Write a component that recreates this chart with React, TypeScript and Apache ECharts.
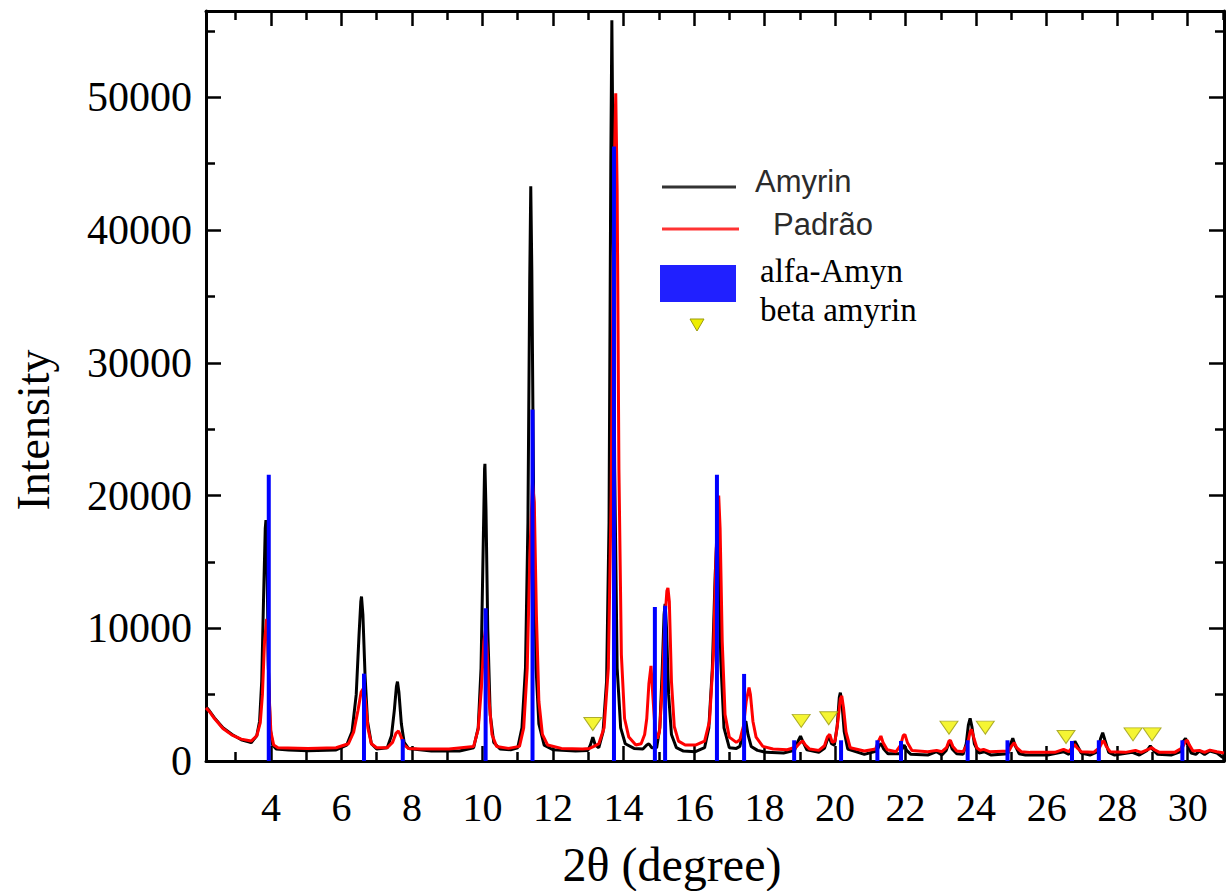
import React, { useEffect, useRef } from 'react';
import * as echarts from 'echarts';

// ---- axis ranges & ticks ----
const xMin = 2.16;
const xMax = 31.03;
const yMin = 0;
const yMax = 56500;
const xMajorTicks = [4, 6, 8, 10, 12, 14, 16, 18, 20, 22, 24, 26, 28, 30];
const xMinorTicks = [3, 5, 7, 9, 11, 13, 15, 17, 19, 21, 23, 25, 27, 29, 31];
const yMajorTicks = [0, 10000, 20000, 30000, 40000, 50000];
const yMinorTicks = [5000, 15000, 25000, 35000, 45000, 55000];

// ---- series names ----
const seriesNames = ['Amyrin', 'Padrão', 'alfa-Amyn', 'beta amyrin'];
const xTitle = '2θ (degree)';
const yTitle = 'Intensity';

// ---- Amyrin (black) pattern: [2θ, intensity] ----
const amyrin: number[][] = [
  [2.16, 4100], [2.25, 3800], [2.4, 3250], [2.64, 2500], [2.9, 2000], [3.16, 1600], [3.44, 1380],
  [3.6, 1900], [3.68, 3000], [3.74, 6000], [3.79, 12000], [3.84, 17500], [3.86, 18150], [3.89, 15000],
  [3.93, 7000], [3.98, 2500], [4.05, 1200], [4.15, 900], [4.5, 820], [5.05, 780], [5.85, 830],
  [6.15, 1200], [6.3, 2200], [6.42, 5000], [6.5, 9500], [6.55, 12000], [6.57, 12390], [6.61, 11000],
  [6.67, 6500], [6.74, 3000], [6.85, 1300], [7.0, 900], [7.3, 1000], [7.42, 1900], [7.5, 3800],
  [7.56, 5600], [7.59, 5980], [7.63, 5200], [7.7, 2800], [7.78, 1400], [7.9, 950], [8.55, 750],
  [9.35, 750], [9.75, 1000], [9.88, 2500], [9.96, 7000], [10.02, 16000], [10.06, 22000],
  [10.07, 22390], [10.1, 19000], [10.15, 10000], [10.22, 3500], [10.32, 1400], [10.5, 900],
  [10.8, 850], [11.0, 1000], [11.12, 2500], [11.22, 7000], [11.29, 18000], [11.34, 36000],
  [11.37, 43300], [11.4, 37000], [11.45, 20000], [11.52, 7000], [11.6, 2800], [11.75, 1200],
  [12.0, 850], [12.64, 750], [12.99, 800], [13.06, 1200], [13.13, 1800], [13.2, 1200], [13.3, 1000],
  [13.42, 2200], [13.52, 6000], [13.59, 18000], [13.64, 45000], [13.67, 55800], [13.7, 46000],
  [13.75, 22000], [13.82, 7000], [13.92, 2500], [14.05, 1300], [14.3, 950], [14.55, 900],
  [14.66, 1200], [14.72, 1300], [14.8, 1000], [14.94, 1000], [15.03, 2500], [15.1, 7000],
  [15.15, 11000], [15.18, 11840], [15.22, 10000], [15.28, 5000], [15.36, 2000], [15.5, 1000],
  [15.7, 750], [16.04, 700], [16.3, 1000], [16.42, 2500], [16.52, 7000], [16.6, 14000],
  [16.66, 17500], [16.7, 15000], [16.76, 7500], [16.85, 2500], [17.0, 1000], [17.2, 950],
  [17.3, 1100], [17.38, 2000], [17.44, 2900], [17.47, 3000], [17.53, 2000], [17.62, 1100],
  [17.8, 800], [18.04, 650], [18.54, 600], [18.85, 800], [18.95, 1500], [19.02, 1880],
  [19.08, 1500], [19.2, 850], [19.54, 650], [19.7, 950], [19.78, 1600], [19.84, 1760],
  [19.9, 1300], [19.98, 1200], [20.06, 2600], [20.12, 4800], [20.15, 5150], [20.19, 4500],
  [20.26, 2200], [20.36, 900], [20.83, 500], [21.18, 750], [21.26, 1200], [21.31, 1300],
  [21.38, 900], [21.5, 550], [21.83, 550], [21.9, 900], [21.96, 1200], [22.03, 800], [22.15, 500],
  [22.63, 450], [22.88, 700], [23.03, 450], [23.15, 800], [23.22, 1300], [23.26, 1400],
  [23.32, 900], [23.45, 550], [23.63, 500], [23.72, 1300], [23.78, 2700], [23.83, 3220],
  [23.88, 2600], [23.95, 1300], [24.08, 600], [24.23, 700], [24.43, 450], [24.9, 550],
  [24.98, 1300], [25.04, 1710], [25.1, 1200], [25.22, 550], [25.4, 450], [26.03, 450],
  [26.48, 700], [26.63, 500], [26.74, 1000], [26.8, 1500], [26.86, 1200], [26.98, 600],
  [27.23, 450], [27.45, 700], [27.53, 1700], [27.59, 2130], [27.65, 1600], [27.76, 650],
  [27.93, 450], [28.43, 650], [28.63, 450], [28.85, 800], [28.94, 1130], [29.03, 800],
  [29.15, 500], [29.53, 450], [29.8, 700], [29.88, 1500], [29.94, 1710], [30.0, 1200],
  [30.1, 600], [30.23, 500], [30.33, 750], [30.48, 500], [30.63, 750], [30.83, 600],
  [30.98, 300], [31.03, 250],
];

// ---- Padrão (red) pattern ----
const padrao: number[][] = [
  [2.16, 4000], [2.25, 3750], [2.4, 3200], [2.64, 2450], [2.9, 1950], [3.16, 1650], [3.44, 1500],
  [3.6, 1900], [3.7, 2900], [3.76, 5000], [3.82, 9000], [3.88, 10700], [3.91, 9000], [3.95, 5000],
  [4.0, 2200], [4.08, 1200], [4.2, 1000], [5.05, 950], [5.85, 1000], [6.2, 1300], [6.35, 2200],
  [6.47, 3800], [6.56, 5200], [6.63, 5500], [6.68, 4600], [6.75, 2500], [6.85, 1300], [7.0, 1000],
  [7.3, 1000], [7.45, 1400], [7.55, 2100], [7.62, 2260], [7.68, 1900], [7.78, 1200], [7.9, 950],
  [8.25, 900], [9.05, 900], [9.75, 1100], [9.88, 2400], [9.97, 5500], [10.04, 9000], [10.09, 10000],
  [10.13, 8500], [10.19, 4500], [10.27, 2000], [10.4, 1100], [10.74, 950], [11.05, 1100],
  [11.17, 2500], [11.27, 7000], [11.35, 16000], [11.42, 21000], [11.47, 19500], [11.53, 11000],
  [11.6, 4500], [11.7, 2000], [11.85, 1200], [12.24, 950], [12.84, 900], [13.04, 950],
  [13.16, 1100], [13.3, 1300], [13.45, 2500], [13.57, 7000], [13.65, 20000], [13.72, 42000],
  [13.78, 50300], [13.82, 43000], [13.87, 22000], [13.94, 8000], [14.03, 3200], [14.15, 1800],
  [14.35, 1200], [14.5, 1300], [14.6, 2000], [14.66, 3200], [14.72, 5800], [14.78, 7160],
  [14.83, 5000], [14.9, 2200], [14.96, 1700], [15.02, 2200], [15.1, 5500], [15.17, 10500],
  [15.23, 12800], [15.26, 13040], [15.3, 12000], [15.36, 6000], [15.44, 2600], [15.56, 1500],
  [15.75, 1200], [16.04, 1200], [16.3, 1500], [16.44, 3000], [16.55, 8000], [16.63, 16000],
  [16.7, 20000], [16.74, 17500], [16.8, 9000], [16.88, 3500], [17.0, 1800], [17.2, 1400],
  [17.3, 1600], [17.4, 2600], [17.48, 4500], [17.56, 5530], [17.6, 5000], [17.67, 3000],
  [17.76, 1800], [17.95, 1100], [18.24, 900], [18.64, 850], [18.9, 1050], [19.0, 1350],
  [19.08, 1510], [19.16, 1200], [19.28, 900], [19.54, 800], [19.7, 1150], [19.78, 1800],
  [19.85, 2010], [19.92, 1400], [20.0, 1500], [20.08, 3000], [20.15, 4700], [20.19, 4900],
  [20.24, 4000], [20.31, 2200], [20.43, 1000], [20.83, 750], [21.15, 900], [21.23, 1500],
  [21.3, 1880], [21.36, 1400], [21.48, 850], [21.73, 700], [21.86, 1200], [21.93, 1900],
  [21.98, 2010], [22.05, 1400], [22.18, 800], [22.63, 700], [22.88, 800], [23.03, 700],
  [23.16, 1000], [23.23, 1500], [23.27, 1560], [23.34, 1100], [23.45, 750], [23.63, 700],
  [23.76, 1300], [23.83, 2200], [23.87, 2390], [23.93, 1800], [24.02, 1000], [24.11, 800],
  [24.21, 880], [24.38, 700], [24.93, 750], [25.0, 1100], [25.08, 1380], [25.15, 1000],
  [25.28, 700], [25.53, 650], [26.23, 650], [26.48, 880], [26.63, 700], [26.72, 1000],
  [26.79, 1260], [26.86, 1000], [26.98, 700], [27.33, 650], [27.5, 1000], [27.58, 1450],
  [27.62, 1510], [27.69, 1100], [27.8, 700], [28.23, 650], [28.52, 800], [28.68, 650],
  [28.9, 900], [28.98, 1010], [29.06, 850], [29.2, 650], [29.63, 650], [29.85, 1000],
  [29.94, 1500], [29.99, 1560], [30.05, 1200], [30.15, 750], [30.33, 800], [30.48, 650],
  [30.63, 820], [30.83, 700], [31.03, 600],
];

// ---- alfa-Amyrin reference peaks (blue sticks) ----
const alfaX = [3.94, 6.64, 7.74, 10.09, 11.42, 13.73, 14.89, 15.18, 16.65, 17.42, 18.84, 20.17, 21.2, 21.87, 23.76, 24.89, 26.72, 27.48, 29.85];
const alfaY = [21560, 6580, 1650, 11500, 26480, 46300, 11600, 11700, 21560, 6560, 1560, 1560, 1560, 1510, 1560, 1560, 1510, 1560, 1560];

// ---- beta amyrin markers (yellow triangles) ----
const betaX = [13.13, 19.04, 19.82, 23.23, 24.26, 26.55, 28.45, 28.99];
const betaY = [2790, 3020, 3220, 2510, 2510, 1810, 2010, 2010];

const SERIF = '"Liberation Serif", "Times New Roman", serif';
const SANS = '"Liberation Sans", Arial, sans-serif';

function xAxisDef(position: 'top' | 'bottom', ticks: number[], major: boolean, labels: boolean) {
  return {
    type: 'value',
    position,
    min: xMin,
    max: xMax,
    axisLine: { show: major, onZero: false, lineStyle: { color: '#000', width: 3 } },
    axisTick: { show: true, inside: true, length: major ? 15 : 9, customValues: ticks, lineStyle: { color: '#000', width: 2.5 } },
    axisLabel: labels
      ? { show: true, customValues: ticks, margin: 26, fontFamily: SERIF, fontSize: 40, color: '#000', formatter: (v: number) => String(v) }
      : { show: false },
    splitLine: { show: false },
  };
}

function yAxisDef(position: 'left' | 'right', ticks: number[], major: boolean, labels: boolean) {
  return {
    type: 'value',
    position,
    min: yMin,
    max: yMax,
    axisLine: { show: major, onZero: false, lineStyle: { color: '#000', width: 3 } },
    axisTick: { show: true, inside: true, length: major ? 15 : 9, customValues: ticks, lineStyle: { color: '#000', width: 2.5 } },
    axisLabel: labels
      ? { show: true, customValues: ticks, margin: 14, fontFamily: SERIF, fontSize: 42, color: '#000', formatter: (v: number) => String(v) }
      : { show: false },
    splitLine: { show: false },
  };
}

export default function App() {
  const ref = useRef<HTMLDivElement>(null);

  useEffect(() => {
    if (!ref.current) return;
    const chart = echarts.init(ref.current, undefined, { renderer: 'svg' });

    const option: any = {
      animation: false,
      backgroundColor: '#fff',
      grid: { left: 206, right: 7, top: 11, bottom: 130, containLabel: false, outerBoundsMode: 'none' },
      xAxis: [
        xAxisDef('bottom', xMajorTicks, true, true),
        xAxisDef('bottom', xMinorTicks, false, false),
        xAxisDef('top', xMajorTicks, true, false),
        xAxisDef('top', xMinorTicks, false, false),
      ],
      yAxis: [
        yAxisDef('left', yMajorTicks, true, true),
        yAxisDef('left', yMinorTicks, false, false),
        yAxisDef('right', yMajorTicks, true, false),
        yAxisDef('right', yMinorTicks, false, false),
      ],
      series: [
        {
          name: seriesNames[0],
          type: 'line',
          data: amyrin,
          showSymbol: false,
          lineStyle: { color: '#000', width: 3 },
          z: 2,
        },
        {
          name: seriesNames[1],
          type: 'line',
          data: padrao,
          showSymbol: false,
          lineStyle: { color: '#ff0000', width: 3 },
          z: 3,
        },
        {
          name: seriesNames[2],
          type: 'bar',
          data: alfaX.map((x, i) => [x, alfaY[i]]),
          barWidth: 4,
          itemStyle: { color: '#0000ff' },
          z: 4,
        },
        {
          name: seriesNames[3],
          type: 'scatter',
          data: betaX.map((x, i) => [x, betaY[i]]),
          symbol: 'triangle',
          symbolRotate: 180,
          symbolSize: [18, 13],
          itemStyle: { color: '#f2f200', borderColor: '#9a9a10', borderWidth: 1 },
          z: 5,
        },
      ],
      graphic: [
        { type: 'text', x: 33, y: 430, rotation: Math.PI / 2, style: { text: yTitle, font: `46px ${SERIF}`, fill: '#000', align: 'center', textAlign: 'center', verticalAlign: 'middle', textVerticalAlign: 'middle' } },
        { type: 'text', x: 672, y: 864, style: { text: xTitle, font: `48px ${SERIF}`, fill: '#000', align: 'center', textAlign: 'center', verticalAlign: 'middle', textVerticalAlign: 'middle' } },
        { type: 'line', shape: { x1: 662, y1: 187, x2: 736, y2: 187 }, style: { stroke: '#333', lineWidth: 3 } },
        { type: 'text', x: 755, y: 181, style: { text: seriesNames[0], font: `31px ${SANS}`, fill: '#2b2b2b', verticalAlign: 'middle', textVerticalAlign: 'middle' } },
        { type: 'line', shape: { x1: 662, y1: 229, x2: 739, y2: 229 }, style: { stroke: '#ff3333', lineWidth: 3 } },
        { type: 'text', x: 773, y: 224, style: { text: seriesNames[1], font: `31px ${SANS}`, fill: '#2b2b2b', verticalAlign: 'middle', textVerticalAlign: 'middle' } },
        { type: 'rect', shape: { x: 660, y: 265, width: 76, height: 37 }, style: { fill: '#2020ff' } },
        { type: 'text', x: 760, y: 271, style: { text: seriesNames[2], font: `33px ${SERIF}`, fill: '#000', verticalAlign: 'middle', textVerticalAlign: 'middle' } },
        { type: 'text', x: 760, y: 310, style: { text: seriesNames[3], font: `33px ${SERIF}`, fill: '#000', verticalAlign: 'middle', textVerticalAlign: 'middle' } },
        { type: 'polygon', shape: { points: [[690, 319], [704, 319], [697, 331]] }, style: { fill: '#eeee00', stroke: '#9a9a10', lineWidth: 1 } },
      ],
    };

    chart.setOption(option);
    return () => chart.dispose();
  }, []);

  return (
    <div
      ref={ref}
      style={{ position: 'fixed', left: 0, top: 0, width: 1231, height: 891, background: '#fff' }}
    />
  );
}
